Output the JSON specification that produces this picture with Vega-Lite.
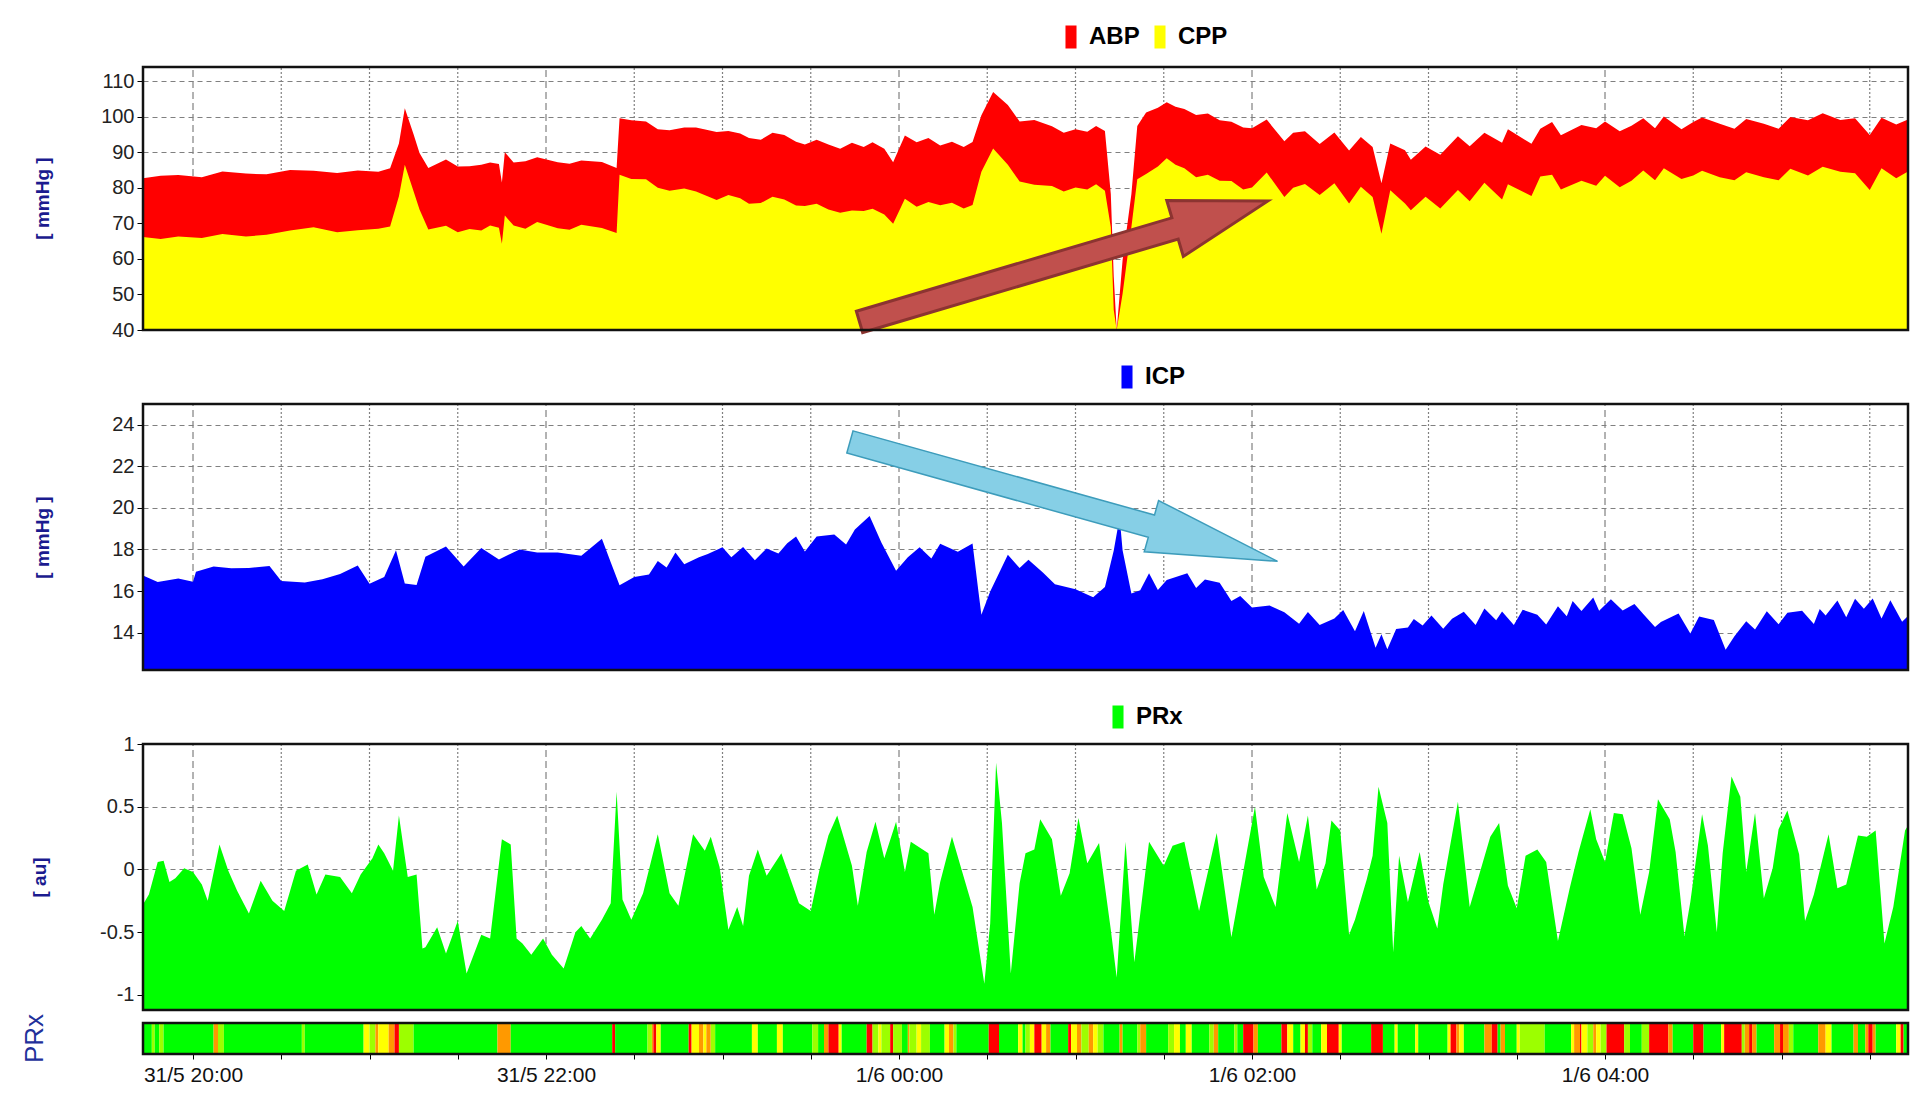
{
  "$schema": "https://vega.github.io/schema/vega-lite/v6.json",
  "width": 1765,
  "height": 987,
  "padding": {"left": 21, "top": 25, "right": 5, "bottom": 5},
  "config": {"view": {"stroke": null}},
  "datasets": {
    "grid": [
      {"t":"2013-05-31T20:00"},{"t":"2013-05-31T20:30"},{"t":"2013-05-31T21:00"},{"t":"2013-05-31T21:30"},{"t":"2013-05-31T22:00"},{"t":"2013-05-31T22:30"},{"t":"2013-05-31T23:00"},{"t":"2013-05-31T23:30"},{"t":"2013-06-01T00:00"},{"t":"2013-06-01T00:30"},{"t":"2013-06-01T01:00"},{"t":"2013-06-01T01:30"},{"t":"2013-06-01T02:00"},{"t":"2013-06-01T02:30"},{"t":"2013-06-01T03:00"},{"t":"2013-06-01T03:30"},{"t":"2013-06-01T04:00"},{"t":"2013-06-01T04:30"},{"t":"2013-06-01T05:00"},{"t":"2013-06-01T05:30"}
    ],
    "span": [{"s": "2013-05-31T19:43", "e": "2013-06-01T05:43"}]
  },
  "resolve": {"scale": {"y": "independent", "color": "independent"}, "axis": {"y": "independent"}, "legend": {"color": "independent"}},
  "layer": [
    {
      "data": {"name": "grid"},
      "mark": {"type": "rule", "color": "#808080", "strokeWidth": 1.2},
      "encoding": {
        "x": {"field": "t", "type": "temporal", "title": null,
          "scale": {"nice": false},
          "axis": {"tickCount": 20, "domain": false, "grid": false, "tickSize": 5, "tickColor": "#000000",
            "labelExpr": "hours(datum.value) % 2 == 0 && minutes(datum.value) == 0 ? timeFormat(datum.value, '%-d/%-m %H:%M') : ''",
            "labelFont": "Liberation Sans", "labelFontSize": 21, "labelColor": "#111111", "labelPadding": 5,
            "labelFlush": false, "labelOverlap": false, "labelBound": false}},
        "y": {"datum": 40, "type": "quantitative", "scale": {"domain": [40, 114], "range": [263, 0], "nice": false, "zero": false}, "axis": null},
        "y2": {"datum": 114},
        "strokeDash": {"condition": {"test": "hours(datum.t) % 2 == 0 && minutes(datum.t) == 0", "value": [7, 4]}, "value": [2, 2]}
      }
    },
    {
      "data": {"values": [
        {"t":"2013-05-31T19:43","ABP":82.7,"CPP":66.2},{"t":"2013-05-31T19:49","ABP":83.4,"CPP":65.6},{"t":"2013-05-31T19:55","ABP":83.6,"CPP":66.3},{"t":"2013-05-31T20:03","ABP":83.0,"CPP":65.9},{"t":"2013-05-31T20:10","ABP":84.6,"CPP":67.0},{"t":"2013-05-31T20:18","ABP":84.0,"CPP":66.3},{"t":"2013-05-31T20:25","ABP":83.8,"CPP":66.8},{"t":"2013-05-31T20:33","ABP":85.0,"CPP":68.0},{"t":"2013-05-31T20:41","ABP":84.8,"CPP":68.9},{"t":"2013-05-31T20:49","ABP":84.2,"CPP":67.5},{"t":"2013-05-31T20:56","ABP":84.9,"CPP":68.1},{"t":"2013-05-31T21:03","ABP":84.5,"CPP":68.5},{"t":"2013-05-31T21:07","ABP":85.5,"CPP":69.1},{"t":"2013-05-31T21:10","ABP":92.5,"CPP":77.6},{"t":"2013-05-31T21:12","ABP":102.4,"CPP":86.5},{"t":"2013-05-31T21:15","ABP":95.0,"CPP":79.0},{"t":"2013-05-31T21:17","ABP":89.8,"CPP":73.9},{"t":"2013-05-31T21:20","ABP":85.6,"CPP":68.3},{"t":"2013-05-31T21:26","ABP":88.0,"CPP":69.3},{"t":"2013-05-31T21:30","ABP":86.0,"CPP":67.5},{"t":"2013-05-31T21:34","ABP":86.1,"CPP":68.4},{"t":"2013-05-31T21:38","ABP":86.5,"CPP":68.0},{"t":"2013-05-31T21:41","ABP":87.1,"CPP":69.4},{"t":"2013-05-31T21:44","ABP":86.7,"CPP":68.8},{"t":"2013-05-31T21:45","ABP":81.5,"CPP":64.3},{"t":"2013-05-31T21:46","ABP":90.0,"CPP":72.2},{"t":"2013-05-31T21:49","ABP":87.1,"CPP":69.4},{"t":"2013-05-31T21:53","ABP":87.5,"CPP":68.5},{"t":"2013-05-31T21:57","ABP":88.6,"CPP":70.4},{"t":"2013-05-31T22:04","ABP":87.2,"CPP":68.6},{"t":"2013-05-31T22:08","ABP":86.8,"CPP":68.2},{"t":"2013-05-31T22:12","ABP":87.7,"CPP":69.6},{"t":"2013-05-31T22:19","ABP":87.3,"CPP":68.7},{"t":"2013-05-31T22:24","ABP":85.6,"CPP":67.3},{"t":"2013-05-31T22:25","ABP":99.6,"CPP":83.7},{"t":"2013-05-31T22:29","ABP":99.0,"CPP":82.5},{"t":"2013-05-31T22:34","ABP":98.7,"CPP":82.4},{"t":"2013-05-31T22:38","ABP":96.5,"CPP":80.0},{"t":"2013-05-31T22:42","ABP":96.2,"CPP":79.2},{"t":"2013-05-31T22:47","ABP":97.0,"CPP":79.8},{"t":"2013-05-31T22:51","ABP":97.0,"CPP":79.0},{"t":"2013-05-31T22:58","ABP":95.7,"CPP":76.6},{"t":"2013-05-31T23:02","ABP":96.0,"CPP":78.0},{"t":"2013-05-31T23:06","ABP":95.3,"CPP":77.1},{"t":"2013-05-31T23:09","ABP":94.0,"CPP":75.5},{"t":"2013-05-31T23:13","ABP":93.5,"CPP":75.7},{"t":"2013-05-31T23:17","ABP":95.5,"CPP":77.5},{"t":"2013-05-31T23:21","ABP":94.9,"CPP":76.7},{"t":"2013-05-31T23:25","ABP":93.0,"CPP":75.0},{"t":"2013-05-31T23:28","ABP":92.2,"CPP":74.9},{"t":"2013-05-31T23:32","ABP":93.5,"CPP":75.5},{"t":"2013-05-31T23:36","ABP":92.2,"CPP":73.9},{"t":"2013-05-31T23:40","ABP":91.0,"CPP":73.0},{"t":"2013-05-31T23:44","ABP":92.7,"CPP":73.6},{"t":"2013-05-31T23:48","ABP":91.5,"CPP":73.5},{"t":"2013-05-31T23:51","ABP":92.8,"CPP":74.1},{"t":"2013-05-31T23:55","ABP":91.0,"CPP":72.5},{"t":"2013-05-31T23:58","ABP":87.2,"CPP":69.9},
        {"t":"2013-06-01T00:02","ABP":94.7,"CPP":76.9},{"t":"2013-06-01T00:06","ABP":92.8,"CPP":74.7},{"t":"2013-06-01T00:10","ABP":94.0,"CPP":76.0},{"t":"2013-06-01T00:14","ABP":91.9,"CPP":75.1},{"t":"2013-06-01T00:18","ABP":93.0,"CPP":75.8},{"t":"2013-06-01T00:22","ABP":91.5,"CPP":74.2},{"t":"2013-06-01T00:25","ABP":92.9,"CPP":75.2},{"t":"2013-06-01T00:28","ABP":100.4,"CPP":84.5},{"t":"2013-06-01T00:32","ABP":107.0,"CPP":91.1},{"t":"2013-06-01T00:37","ABP":103.3,"CPP":86.5},{"t":"2013-06-01T00:41","ABP":98.7,"CPP":81.8},{"t":"2013-06-01T00:46","ABP":99.1,"CPP":80.9},{"t":"2013-06-01T00:52","ABP":97.3,"CPP":80.5},{"t":"2013-06-01T00:56","ABP":95.5,"CPP":79.0},{"t":"2013-06-01T01:00","ABP":96.5,"CPP":80.1},{"t":"2013-06-01T01:04","ABP":95.8,"CPP":79.5},{"t":"2013-06-01T01:07","ABP":97.4,"CPP":81.0},{"t":"2013-06-01T01:10","ABP":96.0,"CPP":79.2},{"t":"2013-06-01T01:12","ABP":78.3,"CPP":68.9},{"t":"2013-06-01T01:13","ABP":55.0,"CPP":45.6},{"t":"2013-06-01T01:14","ABP":40.0,"CPP":40.0},{"t":"2013-06-01T01:16","ABP":59.6,"CPP":50.2},{"t":"2013-06-01T01:19","ABP":78.3,"CPP":69.0},{"t":"2013-06-01T01:21","ABP":97.4,"CPP":82.4},{"t":"2013-06-01T01:24","ABP":101.2,"CPP":83.9},{"t":"2013-06-01T01:28","ABP":102.5,"CPP":86.0},{"t":"2013-06-01T01:31","ABP":104.1,"CPP":88.3},{"t":"2013-06-01T01:34","ABP":102.8,"CPP":86.5},{"t":"2013-06-01T01:37","ABP":102.2,"CPP":85.5},{"t":"2013-06-01T01:41","ABP":100.5,"CPP":83.0},{"t":"2013-06-01T01:45","ABP":100.9,"CPP":83.7},{"t":"2013-06-01T01:49","ABP":99.0,"CPP":82.0},{"t":"2013-06-01T01:53","ABP":98.6,"CPP":81.9},{"t":"2013-06-01T01:57","ABP":97.0,"CPP":79.5},{"t":"2013-06-01T02:00","ABP":96.8,"CPP":80.1},{"t":"2013-06-01T02:05","ABP":99.2,"CPP":84.3},{"t":"2013-06-01T02:11","ABP":93.1,"CPP":77.4},{"t":"2013-06-01T02:14","ABP":95.5,"CPP":80.0},{"t":"2013-06-01T02:18","ABP":95.9,"CPP":81.1},{"t":"2013-06-01T02:23","ABP":92.3,"CPP":78.0},{"t":"2013-06-01T02:28","ABP":95.6,"CPP":81.3},{"t":"2013-06-01T02:33","ABP":90.5,"CPP":75.6},{"t":"2013-06-01T02:37","ABP":94.3,"CPP":80.3},{"t":"2013-06-01T02:41","ABP":91.5,"CPP":77.4},{"t":"2013-06-01T02:44","ABP":81.3,"CPP":67.1},{"t":"2013-06-01T02:47","ABP":92.5,"CPP":79.3},{"t":"2013-06-01T02:52","ABP":90.6,"CPP":75.6},{"t":"2013-06-01T02:54","ABP":87.9,"CPP":73.7},{"t":"2013-06-01T02:59","ABP":91.6,"CPP":77.5},{"t":"2013-06-01T03:04","ABP":89.3,"CPP":74.2},{"t":"2013-06-01T03:10","ABP":94.5,"CPP":79.4},{"t":"2013-06-01T03:14","ABP":91.7,"CPP":76.2},{"t":"2013-06-01T03:19","ABP":95.5,"CPP":81.4},{"t":"2013-06-01T03:25","ABP":92.7,"CPP":76.7},{"t":"2013-06-01T03:27","ABP":96.5,"CPP":81.0},{"t":"2013-06-01T03:35","ABP":92.4,"CPP":77.7},{"t":"2013-06-01T03:38","ABP":96.6,"CPP":83.2},{"t":"2013-06-01T03:42","ABP":98.5,"CPP":83.7},{"t":"2013-06-01T03:45","ABP":94.8,"CPP":79.5},{"t":"2013-06-01T03:52","ABP":97.7,"CPP":82.0},{"t":"2013-06-01T03:57","ABP":96.8,"CPP":80.6},{"t":"2013-06-01T04:00","ABP":98.7,"CPP":83.4},{"t":"2013-06-01T04:05","ABP":95.9,"CPP":80.2},{"t":"2013-06-01T04:09","ABP":97.5,"CPP":82.0},{"t":"2013-06-01T04:13","ABP":99.6,"CPP":84.9},{"t":"2013-06-01T04:17","ABP":96.8,"CPP":82.1},{"t":"2013-06-01T04:20","ABP":100.1,"CPP":85.5},{"t":"2013-06-01T04:26","ABP":96.5,"CPP":82.5},{"t":"2013-06-01T04:30","ABP":98.5,"CPP":83.5},{"t":"2013-06-01T04:33","ABP":99.8,"CPP":84.8},{"t":"2013-06-01T04:39","ABP":98.0,"CPP":83.0},{"t":"2013-06-01T04:44","ABP":96.6,"CPP":82.1},{"t":"2013-06-01T04:48","ABP":99.4,"CPP":84.4},{"t":"2013-06-01T04:54","ABP":98.0,"CPP":83.0},{"t":"2013-06-01T04:59","ABP":96.6,"CPP":82.1},{"t":"2013-06-01T05:03","ABP":99.9,"CPP":85.4},{"t":"2013-06-01T05:09","ABP":99.0,"CPP":83.5},{"t":"2013-06-01T05:14","ABP":101.0,"CPP":85.9},{"t":"2013-06-01T05:20","ABP":99.1,"CPP":84.5},{"t":"2013-06-01T05:25","ABP":99.6,"CPP":84.1},{"t":"2013-06-01T05:30","ABP":94.9,"CPP":79.4},{"t":"2013-06-01T05:34","ABP":99.7,"CPP":85.5},{"t":"2013-06-01T05:39","ABP":97.8,"CPP":82.7},{"t":"2013-06-01T05:43","ABP":99.2,"CPP":84.6}
      ]},
      "transform": [{"fold": ["ABP", "CPP"], "as": ["k", "val"]}],
      "mark": {"type": "area", "opacity": 1},
      "encoding": {
        "x": {"field": "t", "type": "temporal", "title": null},
        "y": {"field": "val", "type": "quantitative", "stack": null, "title": "[ mmHg ]",
          "scale": {"domain": [40, 114], "range": [263, 0], "nice": false, "zero": false},
          "axis": {"orient": "left", "grid": true, "values": [40, 50, 60, 70, 80, 90, 100, 110], "domain": false, "gridDash": [5, 4], "gridColor": "#808080", "gridWidth": 1.2,
            "labelFont": "Liberation Sans", "labelFontSize": 20, "labelColor": "#222222", "labelPadding": 3,
            "tickColor": "#000000", "tickSize": 6,
            "titleFont": "Liberation Sans", "titleFontWeight": "bold", "titleColor": "#1b1b8f", "titleFontSize": 19,
            "titleX": -101, "titleY": 131, "titleAngle": -90, "titleBaseline": "middle", "titleAlign": "center"}},
        "y2": {"datum": 40},
        "color": {"field": "k", "type": "nominal",
          "scale": {"domain": ["ABP", "CPP"], "range": ["#ff0000", "#ffff00"]},
          "legend": {"title": null, "orient": "none", "legendX": 916, "legendY": -42, "direction": "horizontal",
            "symbolType": "M-0.48,-1L0.48,-1L0.48,1L-0.48,1Z", "symbolSize": 529, "symbolStrokeWidth": 0,
            "labelFontSize": 24, "labelFont": "Liberation Sans", "labelFontWeight": "bold", "labelColor": "#000000", "labelOffset": 6, "columnPadding": 8, "padding": 0}}
      }
    },
    {
      "data": {"values": [{"t": "2013-06-01T00:56", "v": 59.3}]},
      "mark": {"type": "point", "shape": "M-1,-0.052L0.545,-0.052L0.545,-0.137L1,0L0.545,0.137L0.545,0.052L-1,0.052Z",
        "size": 181476, "angle": -16.5, "filled": true, "fill": "#c0504d", "stroke": "#8c3431", "strokeWidth": 3, "opacity": 1},
      "encoding": {
        "x": {"field": "t", "type": "temporal", "title": null},
        "y": {"field": "v", "type": "quantitative", "scale": {"domain": [40, 114], "range": [263, 0], "nice": false, "zero": false}, "axis": null}
      }
    },
    {
      "data": {"name": "span"},
      "mark": {"type": "rect", "fillOpacity": 0, "stroke": "#111111", "strokeWidth": 2.5},
      "encoding": {
        "x": {"field": "s", "type": "temporal", "title": null},
        "x2": {"field": "e"},
        "y": {"datum": 40, "type": "quantitative", "scale": {"domain": [40, 114], "range": [263, 0], "nice": false, "zero": false}, "axis": null},
        "y2": {"datum": 114}
      }
    },
    {
      "data": {"name": "grid"},
      "mark": {"type": "rule", "color": "#808080", "strokeWidth": 1.2},
      "encoding": {
        "x": {"field": "t", "type": "temporal", "title": null},
        "y": {"datum": 12.2, "type": "quantitative", "scale": {"domain": [12.2, 25], "range": [603, 337], "nice": false, "zero": false}, "axis": null},
        "y2": {"datum": 25},
        "strokeDash": {"condition": {"test": "hours(datum.t) % 2 == 0 && minutes(datum.t) == 0", "value": [7, 4]}, "value": [2, 2]}
      }
    },
    {
      "data": {"values": [
        {"t":"2013-05-31T19:43","v":16.75},{"t":"2013-05-31T19:48","v":16.44},{"t":"2013-05-31T19:55","v":16.6},{"t":"2013-05-31T20:00","v":16.45},{"t":"2013-05-31T20:01","v":16.93},{"t":"2013-05-31T20:07","v":17.18},{"t":"2013-05-31T20:13","v":17.1},{"t":"2013-05-31T20:19","v":17.11},{"t":"2013-05-31T20:26","v":17.2},{"t":"2013-05-31T20:30","v":16.48},{"t":"2013-05-31T20:38","v":16.41},{"t":"2013-05-31T20:44","v":16.57},{"t":"2013-05-31T20:50","v":16.82},{"t":"2013-05-31T20:56","v":17.23},{"t":"2013-05-31T21:00","v":16.35},{"t":"2013-05-31T21:05","v":16.68},{"t":"2013-05-31T21:09","v":17.96},{"t":"2013-05-31T21:12","v":16.36},{"t":"2013-05-31T21:16","v":16.29},{"t":"2013-05-31T21:19","v":17.65},{"t":"2013-05-31T21:26","v":18.14},{"t":"2013-05-31T21:32","v":17.18},{"t":"2013-05-31T21:38","v":18.07},{"t":"2013-05-31T21:44","v":17.52},{"t":"2013-05-31T21:51","v":18.0},{"t":"2013-05-31T21:57","v":17.85},{"t":"2013-05-31T22:04","v":17.85},{"t":"2013-05-31T22:12","v":17.7},{"t":"2013-05-31T22:19","v":18.51},{"t":"2013-05-31T22:22","v":17.39},{"t":"2013-05-31T22:25","v":16.28},{"t":"2013-05-31T22:30","v":16.68},{"t":"2013-05-31T22:35","v":16.8},{"t":"2013-05-31T22:38","v":17.44},{"t":"2013-05-31T22:41","v":17.13},{"t":"2013-05-31T22:44","v":17.85},{"t":"2013-05-31T22:47","v":17.29},{"t":"2013-05-31T22:52","v":17.62},{"t":"2013-05-31T22:55","v":17.78},{"t":"2013-05-31T23:00","v":18.11},{"t":"2013-05-31T23:03","v":17.63},{"t":"2013-05-31T23:07","v":18.12},{"t":"2013-05-31T23:11","v":17.48},{"t":"2013-05-31T23:15","v":18.05},{"t":"2013-05-31T23:19","v":17.81},{"t":"2013-05-31T23:22","v":18.3},{"t":"2013-05-31T23:25","v":18.62},{"t":"2013-05-31T23:28","v":17.9},{"t":"2013-05-31T23:32","v":18.63},{"t":"2013-05-31T23:38","v":18.72},{"t":"2013-05-31T23:42","v":18.24},{"t":"2013-05-31T23:45","v":18.96},{"t":"2013-05-31T23:50","v":19.61},{"t":"2013-05-31T23:54","v":18.34},{"t":"2013-05-31T23:59","v":16.98},
        {"t":"2013-06-01T00:03","v":17.63},{"t":"2013-06-01T00:07","v":18.11},{"t":"2013-06-01T00:11","v":17.56},{"t":"2013-06-01T00:14","v":18.28},{"t":"2013-06-01T00:20","v":17.89},{"t":"2013-06-01T00:25","v":18.29},{"t":"2013-06-01T00:27","v":15.98},{"t":"2013-06-01T00:28","v":14.86},{"t":"2013-06-01T00:31","v":15.98},{"t":"2013-06-01T00:37","v":17.75},{"t":"2013-06-01T00:41","v":17.11},{"t":"2013-06-01T00:44","v":17.51},{"t":"2013-06-01T00:49","v":16.88},{"t":"2013-06-01T00:53","v":16.33},{"t":"2013-06-01T01:00","v":16.09},{"t":"2013-06-01T01:06","v":15.7},{"t":"2013-06-01T01:10","v":16.19},{"t":"2013-06-01T01:13","v":17.95},{"t":"2013-06-01T01:15","v":19.55},{"t":"2013-06-01T01:16","v":17.96},{"t":"2013-06-01T01:19","v":15.88},{"t":"2013-06-01T01:22","v":16.04},{"t":"2013-06-01T01:25","v":16.85},{"t":"2013-06-01T01:28","v":16.05},{"t":"2013-06-01T01:31","v":16.53},{"t":"2013-06-01T01:38","v":16.86},{"t":"2013-06-01T01:41","v":16.14},{"t":"2013-06-01T01:44","v":16.55},{"t":"2013-06-01T01:49","v":16.4},{"t":"2013-06-01T01:53","v":15.52},{"t":"2013-06-01T01:56","v":15.76},{"t":"2013-06-01T02:00","v":15.21},{"t":"2013-06-01T02:06","v":15.3},{"t":"2013-06-01T02:11","v":14.98},{"t":"2013-06-01T02:16","v":14.43},{"t":"2013-06-01T02:19","v":14.99},{"t":"2013-06-01T02:23","v":14.36},{"t":"2013-06-01T02:28","v":14.68},{"t":"2013-06-01T02:31","v":15.09},{"t":"2013-06-01T02:35","v":14.07},{"t":"2013-06-01T02:38","v":15.04},{"t":"2013-06-01T02:42","v":13.27},{"t":"2013-06-01T02:44","v":13.92},{"t":"2013-06-01T02:46","v":13.2},{"t":"2013-06-01T02:49","v":14.17},{"t":"2013-06-01T02:53","v":14.25},{"t":"2013-06-01T02:55","v":14.65},{"t":"2013-06-01T02:58","v":14.34},{"t":"2013-06-01T03:01","v":14.82},{"t":"2013-06-01T03:05","v":14.18},{"t":"2013-06-01T03:08","v":14.67},{"t":"2013-06-01T03:12","v":15.0},{"t":"2013-06-01T03:16","v":14.36},{"t":"2013-06-01T03:19","v":15.16},{"t":"2013-06-01T03:23","v":14.6},{"t":"2013-06-01T03:25","v":15.01},{"t":"2013-06-01T03:29","v":14.37},{"t":"2013-06-01T03:32","v":15.1},{"t":"2013-06-01T03:37","v":14.86},{"t":"2013-06-01T03:40","v":14.39},{"t":"2013-06-01T03:44","v":15.27},{"t":"2013-06-01T03:47","v":14.79},{"t":"2013-06-01T03:49","v":15.52},{"t":"2013-06-01T03:52","v":15.04},{"t":"2013-06-01T03:56","v":15.69},{"t":"2013-06-01T03:58","v":15.05},{"t":"2013-06-01T04:02","v":15.61},{"t":"2013-06-01T04:06","v":15.06},{"t":"2013-06-01T04:10","v":15.38},{"t":"2013-06-01T04:13","v":14.9},{"t":"2013-06-01T04:17","v":14.27},{"t":"2013-06-01T04:19","v":14.51},{"t":"2013-06-01T04:25","v":14.92},{"t":"2013-06-01T04:29","v":13.96},{"t":"2013-06-01T04:32","v":14.77},{"t":"2013-06-01T04:37","v":14.61},{"t":"2013-06-01T04:41","v":13.17},{"t":"2013-06-01T04:44","v":13.82},{"t":"2013-06-01T04:48","v":14.54},{"t":"2013-06-01T04:51","v":14.15},{"t":"2013-06-01T04:55","v":15.03},{"t":"2013-06-01T04:59","v":14.4},{"t":"2013-06-01T05:02","v":14.96},{"t":"2013-06-01T05:07","v":15.05},{"t":"2013-06-01T05:11","v":14.41},{"t":"2013-06-01T05:13","v":15.13},{"t":"2013-06-01T05:15","v":14.82},{"t":"2013-06-01T05:19","v":15.54},{"t":"2013-06-01T05:22","v":14.74},{"t":"2013-06-01T05:25","v":15.63},{"t":"2013-06-01T05:28","v":15.15},{"t":"2013-06-01T05:31","v":15.64},{"t":"2013-06-01T05:34","v":14.68},{"t":"2013-06-01T05:37","v":15.56},{"t":"2013-06-01T05:41","v":14.52},{"t":"2013-06-01T05:43","v":14.8}
      ]},
      "mark": {"type": "area", "opacity": 1},
      "encoding": {
        "x": {"field": "t", "type": "temporal", "title": null},
        "y": {"field": "v", "type": "quantitative", "title": "[ mmHg ]",
          "scale": {"domain": [12.2, 25], "range": [603, 337], "nice": false, "zero": false},
          "axis": {"orient": "left", "grid": true, "values": [14, 16, 18, 20, 22, 24], "domain": false, "gridDash": [5, 4], "gridColor": "#808080", "gridWidth": 1.2,
            "labelFont": "Liberation Sans", "labelFontSize": 20, "labelColor": "#222222", "labelPadding": 3,
            "tickColor": "#000000", "tickSize": 6,
            "titleFont": "Liberation Sans", "titleFontWeight": "bold", "titleColor": "#1b1b8f", "titleFontSize": 19,
            "titleX": -101, "titleY": 470, "titleAngle": -90, "titleBaseline": "middle", "titleAlign": "center"}},
        "y2": {"datum": 12.2},
        "color": {"datum": "ICP", "type": "nominal",
          "scale": {"domain": ["ICP"], "range": ["#0000ff"]},
          "legend": {"title": null, "orient": "none", "legendX": 972, "legendY": 298, "direction": "horizontal",
            "symbolType": "M-0.48,-1L0.48,-1L0.48,1L-0.48,1Z", "symbolSize": 529, "symbolStrokeWidth": 0,
            "labelFontSize": 24, "labelFont": "Liberation Sans", "labelFontWeight": "bold", "labelColor": "#000000", "labelOffset": 6, "padding": 0}}
      }
    },
    {
      "data": {"values": [{"t": "2013-06-01T00:56", "v": 20.3}]},
      "mark": {"type": "point", "shape": "M-1,-0.052L0.41,-0.052L0.41,-0.12L1,0L0.41,0.12L0.41,0.052L-1,0.052Z",
        "size": 197136, "angle": 15.6, "filled": true, "fill": "#86cfe6", "stroke": "#3d9cbb", "strokeWidth": 1.5, "opacity": 1},
      "encoding": {
        "x": {"field": "t", "type": "temporal", "title": null},
        "y": {"field": "v", "type": "quantitative", "scale": {"domain": [12.2, 25], "range": [603, 337], "nice": false, "zero": false}, "axis": null}
      }
    },
    {
      "data": {"name": "span"},
      "mark": {"type": "rect", "fillOpacity": 0, "stroke": "#111111", "strokeWidth": 2.5},
      "encoding": {
        "x": {"field": "s", "type": "temporal", "title": null},
        "x2": {"field": "e"},
        "y": {"datum": 12.2, "type": "quantitative", "scale": {"domain": [12.2, 25], "range": [603, 337], "nice": false, "zero": false}, "axis": null},
        "y2": {"datum": 25}
      }
    },
    {
      "data": {"name": "grid"},
      "mark": {"type": "rule", "color": "#808080", "strokeWidth": 1.2},
      "encoding": {
        "x": {"field": "t", "type": "temporal", "title": null},
        "y": {"datum": -1.12, "type": "quantitative", "scale": {"domain": [-1.12, 1], "range": [943, 677], "nice": false, "zero": false}, "axis": null},
        "y2": {"datum": 1},
        "strokeDash": {"condition": {"test": "hours(datum.t) % 2 == 0 && minutes(datum.t) == 0", "value": [7, 4]}, "value": [2, 2]}
      }
    },
    {
      "data": {"values": [
        {"t":"2013-05-31T19:43","v":-0.28},{"t":"2013-05-31T19:45","v":-0.2},{"t":"2013-05-31T19:48","v":0.06},{"t":"2013-05-31T19:50","v":0.07},{"t":"2013-05-31T19:52","v":-0.1},{"t":"2013-05-31T19:54","v":-0.07},{"t":"2013-05-31T19:57","v":0.01},{"t":"2013-05-31T20:00","v":-0.02},{"t":"2013-05-31T20:03","v":-0.12},{"t":"2013-05-31T20:05","v":-0.25},{"t":"2013-05-31T20:09","v":0.2},{"t":"2013-05-31T20:12","v":-0.01},{"t":"2013-05-31T20:15","v":-0.17},{"t":"2013-05-31T20:19","v":-0.35},{"t":"2013-05-31T20:23","v":-0.09},{"t":"2013-05-31T20:27","v":-0.25},{"t":"2013-05-31T20:31","v":-0.33},{"t":"2013-05-31T20:35","v":-0.01},{"t":"2013-05-31T20:39","v":0.04},{"t":"2013-05-31T20:42","v":-0.2},{"t":"2013-05-31T20:45","v":-0.04},{"t":"2013-05-31T20:50","v":-0.06},{"t":"2013-05-31T20:54","v":-0.19},{"t":"2013-05-31T20:57","v":-0.04},{"t":"2013-05-31T21:01","v":0.09},{"t":"2013-05-31T21:03","v":0.2},{"t":"2013-05-31T21:05","v":0.13},{"t":"2013-05-31T21:08","v":-0.01},{"t":"2013-05-31T21:10","v":0.43},{"t":"2013-05-31T21:13","v":-0.06},{"t":"2013-05-31T21:16","v":-0.04},{"t":"2013-05-31T21:18","v":-0.63},{"t":"2013-05-31T21:19","v":-0.62},{"t":"2013-05-31T21:23","v":-0.46},{"t":"2013-05-31T21:26","v":-0.67},{"t":"2013-05-31T21:30","v":-0.41},{"t":"2013-05-31T21:33","v":-0.83},{"t":"2013-05-31T21:38","v":-0.52},{"t":"2013-05-31T21:41","v":-0.55},{"t":"2013-05-31T21:45","v":0.24},{"t":"2013-05-31T21:48","v":0.2},{"t":"2013-05-31T21:50","v":-0.55},{"t":"2013-05-31T21:52","v":-0.59},{"t":"2013-05-31T21:55","v":-0.68},{"t":"2013-05-31T21:59","v":-0.55},{"t":"2013-05-31T22:02","v":-0.68},{"t":"2013-05-31T22:06","v":-0.79},{"t":"2013-05-31T22:10","v":-0.5},{"t":"2013-05-31T22:12","v":-0.45},{"t":"2013-05-31T22:15","v":-0.55},{"t":"2013-05-31T22:19","v":-0.4},{"t":"2013-05-31T22:22","v":-0.27},{"t":"2013-05-31T22:24","v":0.62},{"t":"2013-05-31T22:26","v":-0.24},{"t":"2013-05-31T22:29","v":-0.4},{"t":"2013-05-31T22:33","v":-0.19},{"t":"2013-05-31T22:38","v":0.28},{"t":"2013-05-31T22:42","v":-0.19},{"t":"2013-05-31T22:45","v":-0.29},{"t":"2013-05-31T22:50","v":0.28},{"t":"2013-05-31T22:54","v":0.15},{"t":"2013-05-31T22:56","v":0.26},{"t":"2013-05-31T22:59","v":0.02},{"t":"2013-05-31T23:02","v":-0.48},{"t":"2013-05-31T23:05","v":-0.3},{"t":"2013-05-31T23:07","v":-0.45},{"t":"2013-05-31T23:09","v":-0.05},{"t":"2013-05-31T23:12","v":0.16},{"t":"2013-05-31T23:15","v":-0.05},{"t":"2013-05-31T23:20","v":0.13},{"t":"2013-05-31T23:26","v":-0.27},{"t":"2013-05-31T23:30","v":-0.33},{"t":"2013-05-31T23:33","v":0.0},{"t":"2013-05-31T23:36","v":0.27},{"t":"2013-05-31T23:39","v":0.43},{"t":"2013-05-31T23:44","v":0.03},{"t":"2013-05-31T23:46","v":-0.29},{"t":"2013-05-31T23:49","v":0.14},{"t":"2013-05-31T23:52","v":0.38},{"t":"2013-05-31T23:55","v":0.09},{"t":"2013-05-31T23:59","v":0.38},
        {"t":"2013-06-01T00:02","v":-0.02},{"t":"2013-06-01T00:04","v":0.22},{"t":"2013-06-01T00:10","v":0.13},{"t":"2013-06-01T00:12","v":-0.36},{"t":"2013-06-01T00:14","v":-0.1},{"t":"2013-06-01T00:18","v":0.26},{"t":"2013-06-01T00:22","v":-0.06},{"t":"2013-06-01T00:25","v":-0.3},{"t":"2013-06-01T00:29","v":-0.91},{"t":"2013-06-01T00:31","v":-0.43},{"t":"2013-06-01T00:33","v":0.85},{"t":"2013-06-01T00:35","v":0.37},{"t":"2013-06-01T00:38","v":-0.83},{"t":"2013-06-01T00:41","v":-0.11},{"t":"2013-06-01T00:43","v":0.13},{"t":"2013-06-01T00:46","v":0.16},{"t":"2013-06-01T00:48","v":0.4},{"t":"2013-06-01T00:52","v":0.24},{"t":"2013-06-01T00:55","v":-0.21},{"t":"2013-06-01T00:58","v":-0.03},{"t":"2013-06-01T01:01","v":0.41},{"t":"2013-06-01T01:04","v":0.05},{"t":"2013-06-01T01:08","v":0.21},{"t":"2013-06-01T01:12","v":-0.48},{"t":"2013-06-01T01:14","v":-0.86},{"t":"2013-06-01T01:17","v":0.22},{"t":"2013-06-01T01:20","v":-0.74},{"t":"2013-06-01T01:25","v":0.22},{"t":"2013-06-01T01:30","v":0.03},{"t":"2013-06-01T01:33","v":0.19},{"t":"2013-06-01T01:37","v":0.22},{"t":"2013-06-01T01:42","v":-0.33},{"t":"2013-06-01T01:48","v":0.29},{"t":"2013-06-01T01:53","v":-0.54},{"t":"2013-06-01T02:01","v":0.5},{"t":"2013-06-01T02:04","v":-0.06},{"t":"2013-06-01T02:08","v":-0.3},{"t":"2013-06-01T02:12","v":0.45},{"t":"2013-06-01T02:16","v":0.06},{"t":"2013-06-01T02:19","v":0.43},{"t":"2013-06-01T02:22","v":-0.16},{"t":"2013-06-01T02:25","v":0.05},{"t":"2013-06-01T02:27","v":0.39},{"t":"2013-06-01T02:30","v":0.31},{"t":"2013-06-01T02:33","v":-0.52},{"t":"2013-06-01T02:35","v":-0.4},{"t":"2013-06-01T02:39","v":-0.08},{"t":"2013-06-01T02:41","v":0.11},{"t":"2013-06-01T02:43","v":0.66},{"t":"2013-06-01T02:46","v":0.37},{"t":"2013-06-01T02:48","v":-0.66},{"t":"2013-06-01T02:50","v":0.11},{"t":"2013-06-01T02:53","v":-0.26},{"t":"2013-06-01T02:57","v":0.14},{"t":"2013-06-01T03:00","v":-0.26},{"t":"2013-06-01T03:03","v":-0.47},{"t":"2013-06-01T03:05","v":-0.12},{"t":"2013-06-01T03:10","v":0.54},{"t":"2013-06-01T03:14","v":-0.3},{"t":"2013-06-01T03:17","v":-0.06},{"t":"2013-06-01T03:21","v":0.26},{"t":"2013-06-01T03:24","v":0.37},{"t":"2013-06-01T03:27","v":-0.13},{"t":"2013-06-01T03:30","v":-0.31},{"t":"2013-06-01T03:33","v":0.11},{"t":"2013-06-01T03:37","v":0.16},{"t":"2013-06-01T03:40","v":0.06},{"t":"2013-06-01T03:44","v":-0.57},{"t":"2013-06-01T03:48","v":-0.15},{"t":"2013-06-01T03:51","v":0.14},{"t":"2013-06-01T03:55","v":0.48},{"t":"2013-06-01T03:57","v":0.24},{"t":"2013-06-01T04:00","v":0.06},{"t":"2013-06-01T04:03","v":0.45},{"t":"2013-06-01T04:06","v":0.44},{"t":"2013-06-01T04:09","v":0.17},{"t":"2013-06-01T04:12","v":-0.36},{"t":"2013-06-01T04:15","v":-0.02},{"t":"2013-06-01T04:18","v":0.56},{"t":"2013-06-01T04:22","v":0.4},{"t":"2013-06-01T04:24","v":0.14},{"t":"2013-06-01T04:27","v":-0.53},{"t":"2013-06-01T04:29","v":-0.26},{"t":"2013-06-01T04:33","v":0.44},{"t":"2013-06-01T04:35","v":0.19},{"t":"2013-06-01T04:38","v":-0.5},{"t":"2013-06-01T04:40","v":0.13},{"t":"2013-06-01T04:43","v":0.74},{"t":"2013-06-01T04:46","v":0.58},{"t":"2013-06-01T04:48","v":-0.02},{"t":"2013-06-01T04:51","v":0.45},{"t":"2013-06-01T04:54","v":-0.23},{"t":"2013-06-01T04:57","v":0.01},{"t":"2013-06-01T04:59","v":0.32},{"t":"2013-06-01T05:02","v":0.47},{"t":"2013-06-01T05:06","v":0.12},{"t":"2013-06-01T05:08","v":-0.41},{"t":"2013-06-01T05:11","v":-0.2},{"t":"2013-06-01T05:16","v":0.28},{"t":"2013-06-01T05:19","v":-0.15},{"t":"2013-06-01T05:22","v":-0.12},{"t":"2013-06-01T05:26","v":0.27},{"t":"2013-06-01T05:29","v":0.26},{"t":"2013-06-01T05:32","v":0.31},{"t":"2013-06-01T05:35","v":-0.59},{"t":"2013-06-01T05:38","v":-0.3},{"t":"2013-06-01T05:42","v":0.31},{"t":"2013-06-01T05:43","v":0.35}
      ]},
      "mark": {"type": "area", "opacity": 1},
      "encoding": {
        "x": {"field": "t", "type": "temporal", "title": null},
        "y": {"field": "v", "type": "quantitative", "title": "[ au]",
          "scale": {"domain": [-1.12, 1], "range": [943, 677], "nice": false, "zero": false},
          "axis": {"orient": "left", "grid": true, "values": [-1, -0.5, 0, 0.5, 1],
            "labelExpr": "datum.value == 0 ? '0' : datum.value == 1 ? '1' : datum.value == -1 ? '-1' : datum.value == 0.5 ? '0.5' : '-0.5'",
            "domain": false, "gridDash": [5, 4], "gridColor": "#808080", "gridWidth": 1.2,
            "labelFont": "Liberation Sans", "labelFontSize": 20, "labelColor": "#222222", "labelPadding": 3,
            "tickColor": "#000000", "tickSize": 6,
            "titleFont": "Liberation Sans", "titleFontWeight": "bold", "titleColor": "#1b1b8f", "titleFontSize": 19,
            "titleX": -104, "titleY": 810, "titleAngle": -90, "titleBaseline": "middle", "titleAlign": "center"}},
        "y2": {"datum": -1.12},
        "color": {"datum": "PRx", "type": "nominal",
          "scale": {"domain": ["PRx"], "range": ["#00ff00"]},
          "legend": {"title": null, "orient": "none", "legendX": 963, "legendY": 638, "direction": "horizontal",
            "symbolType": "M-0.48,-1L0.48,-1L0.48,1L-0.48,1Z", "symbolSize": 529, "symbolStrokeWidth": 0,
            "labelFontSize": 24, "labelFont": "Liberation Sans", "labelFontWeight": "bold", "labelColor": "#000000", "labelOffset": 6, "padding": 0}}
      }
    },
    {
      "data": {"name": "span"},
      "mark": {"type": "rect", "fillOpacity": 0, "stroke": "#111111", "strokeWidth": 2.5},
      "encoding": {
        "x": {"field": "s", "type": "temporal", "title": null},
        "x2": {"field": "e"},
        "y": {"datum": -1.12, "type": "quantitative", "scale": {"domain": [-1.12, 1], "range": [943, 677], "nice": false, "zero": false}, "axis": null},
        "y2": {"datum": 1}
      }
    },
    {
      "data": {"values": [
        {"a":"2013-05-31T19:43:00","c":0},{"a":"2013-05-31T19:46:00","c":1},{"a":"2013-05-31T19:47:00","c":0},{"a":"2013-05-31T19:48:30","c":1},{"a":"2013-05-31T19:50:00","c":0},{"a":"2013-05-31T20:07:00","c":3},{"a":"2013-05-31T20:08:30","c":1},{"a":"2013-05-31T20:10:30","c":0},{"a":"2013-05-31T20:37:00","c":1},{"a":"2013-05-31T20:38:00","c":0},{"a":"2013-05-31T20:58:00","c":2},{"a":"2013-05-31T21:00:00","c":1},{"a":"2013-05-31T21:02:00","c":3},{"a":"2013-05-31T21:03:00","c":2},{"a":"2013-05-31T21:06:30","c":3},{"a":"2013-05-31T21:08:30","c":4},{"a":"2013-05-31T21:10:00","c":1},{"a":"2013-05-31T21:15:00","c":0},{"a":"2013-05-31T21:43:30","c":3},{"a":"2013-05-31T21:48:00","c":0},{"a":"2013-05-31T22:22:30","c":4},{"a":"2013-05-31T22:23:30","c":0},{"a":"2013-05-31T22:34:30","c":1},{"a":"2013-05-31T22:36:00","c":3},{"a":"2013-05-31T22:36:30","c":4},{"a":"2013-05-31T22:37:30","c":2},{"a":"2013-05-31T22:39:00","c":0},{"a":"2013-05-31T22:48:30","c":4},{"a":"2013-05-31T22:49:30","c":2},{"a":"2013-05-31T22:52:00","c":3},{"a":"2013-05-31T22:53:30","c":2},{"a":"2013-05-31T22:54:30","c":3},{"a":"2013-05-31T22:56:00","c":1},{"a":"2013-05-31T22:57:30","c":0},{"a":"2013-05-31T23:10:00","c":2},{"a":"2013-05-31T23:12:00","c":0},{"a":"2013-05-31T23:18:30","c":2},{"a":"2013-05-31T23:20:30","c":0},{"a":"2013-05-31T23:30:30","c":1},{"a":"2013-05-31T23:32:30","c":0},{"a":"2013-05-31T23:34:30","c":3},{"a":"2013-05-31T23:36:00","c":4},{"a":"2013-05-31T23:39:30","c":2},{"a":"2013-05-31T23:40:30","c":0},{"a":"2013-05-31T23:49:00","c":4},{"a":"2013-05-31T23:51:00","c":1},{"a":"2013-05-31T23:53:00","c":2},{"a":"2013-05-31T23:54:00","c":1},{"a":"2013-05-31T23:57:00","c":4},{"a":"2013-05-31T23:58:00","c":1},
        {"a":"2013-06-01T00:01:00","c":0},{"a":"2013-06-01T00:03:00","c":3},{"a":"2013-06-01T00:03:30","c":1},{"a":"2013-06-01T00:06:00","c":2},{"a":"2013-06-01T00:07:30","c":1},{"a":"2013-06-01T00:10:30","c":0},{"a":"2013-06-01T00:15:30","c":2},{"a":"2013-06-01T00:17:00","c":3},{"a":"2013-06-01T00:18:30","c":1},{"a":"2013-06-01T00:19:30","c":0},{"a":"2013-06-01T00:30:30","c":4},{"a":"2013-06-01T00:34:00","c":0},{"a":"2013-06-01T00:40:30","c":2},{"a":"2013-06-01T00:42:00","c":0},{"a":"2013-06-01T00:43:00","c":1},{"a":"2013-06-01T00:44:30","c":2},{"a":"2013-06-01T00:46:00","c":4},{"a":"2013-06-01T00:48:30","c":2},{"a":"2013-06-01T00:50:00","c":3},{"a":"2013-06-01T00:51:30","c":0},{"a":"2013-06-01T00:57:30","c":4},{"a":"2013-06-01T00:58:30","c":2},{"a":"2013-06-01T01:00:30","c":3},{"a":"2013-06-01T01:02:00","c":1},{"a":"2013-06-01T01:04:30","c":3},{"a":"2013-06-01T01:06:00","c":2},{"a":"2013-06-01T01:07:30","c":1},{"a":"2013-06-01T01:09:30","c":0},{"a":"2013-06-01T01:15:00","c":3},{"a":"2013-06-01T01:16:00","c":0},{"a":"2013-06-01T01:21:00","c":1},{"a":"2013-06-01T01:22:00","c":3},{"a":"2013-06-01T01:24:00","c":0},{"a":"2013-06-01T01:31:30","c":1},{"a":"2013-06-01T01:33:30","c":2},{"a":"2013-06-01T01:35:30","c":0},{"a":"2013-06-01T01:37:30","c":2},{"a":"2013-06-01T01:39:30","c":0},{"a":"2013-06-01T01:45:30","c":1},{"a":"2013-06-01T01:47:00","c":3},{"a":"2013-06-01T01:48:30","c":0},{"a":"2013-06-01T01:54:00","c":1},{"a":"2013-06-01T01:55:00","c":0},{"a":"2013-06-01T01:57:00","c":4},{"a":"2013-06-01T02:00:30","c":3},{"a":"2013-06-01T02:02:00","c":0},{"a":"2013-06-01T02:10:00","c":4},{"a":"2013-06-01T02:12:00","c":2},{"a":"2013-06-01T02:14:00","c":0},{"a":"2013-06-01T02:16:30","c":2},{"a":"2013-06-01T02:18:00","c":4},{"a":"2013-06-01T02:19:00","c":1},{"a":"2013-06-01T02:20:30","c":0},{"a":"2013-06-01T02:23:30","c":2},{"a":"2013-06-01T02:25:30","c":4},{"a":"2013-06-01T02:29:30","c":2},{"a":"2013-06-01T02:30:30","c":0},{"a":"2013-06-01T02:40:30","c":4},{"a":"2013-06-01T02:44:30","c":0},{"a":"2013-06-01T02:48:30","c":2},{"a":"2013-06-01T02:49:30","c":0},{"a":"2013-06-01T02:55:30","c":2},{"a":"2013-06-01T02:56:30","c":0},{"a":"2013-06-01T03:06:30","c":2},{"a":"2013-06-01T03:07:30","c":4},{"a":"2013-06-01T03:09:30","c":3},{"a":"2013-06-01T03:10:30","c":2},{"a":"2013-06-01T03:12:00","c":0},{"a":"2013-06-01T03:19:00","c":3},{"a":"2013-06-01T03:21:30","c":4},{"a":"2013-06-01T03:23:30","c":0},{"a":"2013-06-01T03:24:30","c":3},{"a":"2013-06-01T03:26:00","c":0},{"a":"2013-06-01T03:30:00","c":2},{"a":"2013-06-01T03:31:00","c":1},{"a":"2013-06-01T03:39:30","c":0},{"a":"2013-06-01T03:48:30","c":2},{"a":"2013-06-01T03:49:30","c":3},{"a":"2013-06-01T03:51:30","c":4},{"a":"2013-06-01T03:52:00","c":2},{"a":"2013-06-01T03:54:00","c":1},{"a":"2013-06-01T03:56:00","c":3},{"a":"2013-06-01T03:57:00","c":2},{"a":"2013-06-01T03:58:30","c":1},{"a":"2013-06-01T04:00:30","c":4},{"a":"2013-06-01T04:06:30","c":1},{"a":"2013-06-01T04:08:30","c":0},{"a":"2013-06-01T04:12:30","c":1},{"a":"2013-06-01T04:15:00","c":4},{"a":"2013-06-01T04:21:30","c":3},{"a":"2013-06-01T04:23:00","c":0},{"a":"2013-06-01T04:30:00","c":4},{"a":"2013-06-01T04:33:30","c":0},{"a":"2013-06-01T04:39:30","c":2},{"a":"2013-06-01T04:40:30","c":4},{"a":"2013-06-01T04:46:30","c":1},{"a":"2013-06-01T04:47:30","c":3},{"a":"2013-06-01T04:49:00","c":4},{"a":"2013-06-01T04:50:00","c":3},{"a":"2013-06-01T04:51:30","c":0},{"a":"2013-06-01T04:57:30","c":3},{"a":"2013-06-01T04:59:30","c":4},{"a":"2013-06-01T05:00:30","c":3},{"a":"2013-06-01T05:02:30","c":1},{"a":"2013-06-01T05:04:00","c":0},{"a":"2013-06-01T05:12:30","c":3},{"a":"2013-06-01T05:15:00","c":2},{"a":"2013-06-01T05:17:00","c":0},{"a":"2013-06-01T05:24:30","c":3},{"a":"2013-06-01T05:26:00","c":0},{"a":"2013-06-01T05:28:30","c":3},{"a":"2013-06-01T05:29:30","c":4},{"a":"2013-06-01T05:31:00","c":3},{"a":"2013-06-01T05:32:00","c":0},{"a":"2013-06-01T05:39:00","c":2},{"a":"2013-06-01T05:40:30","c":4},{"a":"2013-06-01T05:41:30","c":0},{"a":"2013-06-01T05:43:00","c":0}
      ]},
      "transform": [
        {"window": [{"op": "lead", "field": "a", "as": "b"}], "sort": [{"field": "a", "order": "ascending"}]},
        {"filter": "datum.b != null"}
      ],
      "mark": {"type": "rect"},
      "encoding": {
        "x": {"field": "a", "type": "temporal", "title": null},
        "x2": {"field": "b"},
        "y": {"datum": 0, "type": "quantitative",
          "scale": {"domain": [0, 1], "range": [987, 956], "nice": false, "zero": false},
          "axis": {"orient": "left", "title": "PRx", "labels": false, "ticks": false, "domain": false, "grid": false,
            "titleX": -109, "titleY": 971, "titleAngle": -90, "titleBaseline": "middle", "titleAlign": "center",
            "titleFont": "Liberation Sans", "titleFontSize": 26, "titleFontWeight": "normal", "titleColor": "#22309a"}},
        "y2": {"datum": 1},
        "fill": {"field": "c", "type": "ordinal",
          "scale": {"domain": [0, 1, 2, 3, 4], "range": ["#00ff00", "#9cff00", "#ffff00", "#ff9900", "#ff0000"]},
          "legend": null}
      }
    },
    {
      "data": {"name": "span"},
      "mark": {"type": "rect", "fillOpacity": 0, "stroke": "#111111", "strokeWidth": 2.5},
      "encoding": {
        "x": {"field": "s", "type": "temporal", "title": null},
        "x2": {"field": "e"},
        "y": {"datum": 0, "type": "quantitative", "scale": {"domain": [0, 1], "range": [987, 956], "nice": false, "zero": false}, "axis": null},
        "y2": {"datum": 1}
      }
    }
  ]
}
